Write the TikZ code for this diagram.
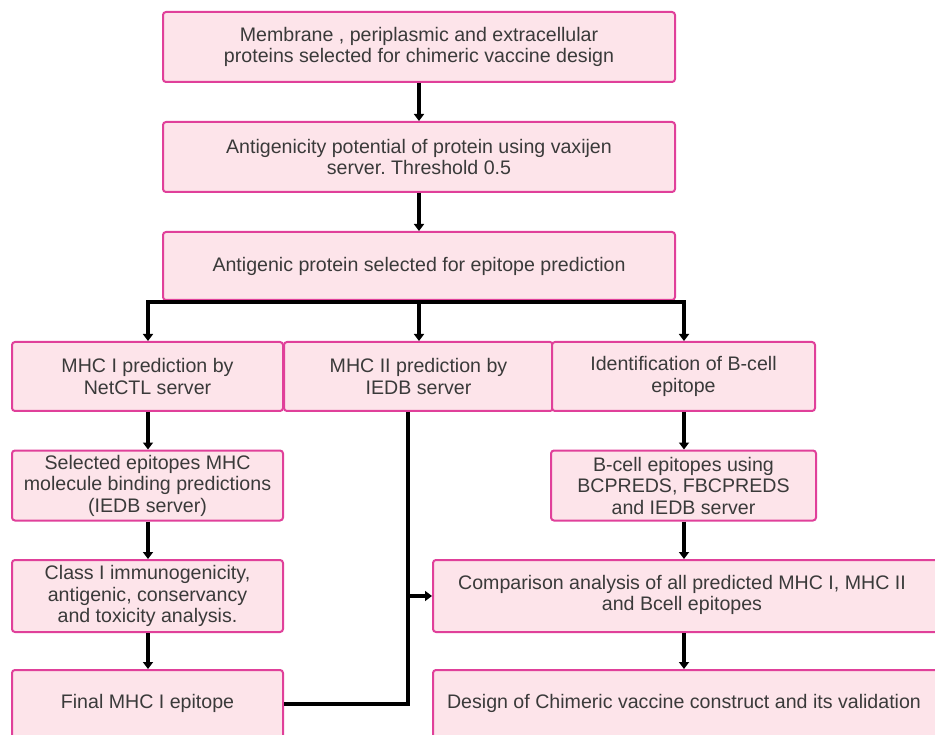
\documentclass[tikz,border=0pt]{standalone}
\usepackage{fontspec}
\setmainfont{Liberation Sans}
\usetikzlibrary{arrows.meta}
\definecolor{boxfill}{HTML}{FDE4EA}
\definecolor{boxline}{HTML}{E0409A}
\definecolor{txtcol}{HTML}{3A3A3A}
\frenchspacing
\tikzset{
  box/.style={draw=boxline, fill=boxfill, line width=2pt, rounded corners=3pt,
    inner sep=0pt, anchor=center, align=center, text=txtcol,
    font=\fontsize{19.6}{21.5}\selectfont},
  txt/.style={inner sep=0pt, align=center, text=txtcol,
    font=\fontsize{19.6}{21.5}\selectfont},
  link/.style={draw=black, line width=3.5pt},
  arr/.style={draw=black, line width=3.5pt, -{Triangle[width=10pt,length=7pt]}}
}
\begin{document}
\begin{tikzpicture}[x=1pt,y=-1pt]
\path[use as bounding box, clip] (0,0) rectangle (935,735);
\fill[white] (0,0) rectangle (935,735);
% top column
\node[box, minimum width=512, minimum height=70] (b1) at (419,47)
  {Membrane , periplasmic and extracellular\\proteins selected for chimeric vaccine design};
\node[box, minimum width=512, minimum height=70] (b2) at (419,157)
  {Antigenicity potential of protein using vaxijen\\server. Threshold 0.5};
\node[box, minimum width=512, minimum height=68] (b3) at (419,266)
  {Antigenic protein selected for epitope prediction};
% row of three
\node[box, minimum width=271, minimum height=69] (m1) at (147.5,376.5)
  {MHC I prediction by\\NetCTL server};
\node[box, minimum width=269, minimum height=69] (m2) at (418.5,376.5)
  {MHC II prediction by\\IEDB server};
\node[box, minimum width=263, minimum height=69] (bc) at (683.5,376.5)
  {Identification of B-cell\\epitope};
% left column
\node[box, minimum width=271, minimum height=70] (s1) at (147.5,485.5)
  {Selected epitopes MHC\\molecule binding predictions\\(IEDB server)};
\node[box, minimum width=271, minimum height=72] (s2) at (147.5,596)
  {Class I immunogenicity,\\antigenic, conservancy\\and toxicity analysis.};
\node[box, minimum width=271, minimum height=80] (s3) at (147.5,710) {};
\node[txt] (s3t) at (147.5,703) {Final MHC I epitope};
% right column
\node[box, minimum width=265, minimum height=70] (be) at (683.5,485.5)
  {B-cell epitopes using\\BCPREDS, FBCPREDS\\and IEDB server};
\node[box, minimum width=520, minimum height=72] (cmp) at (693,596) {};
\node[txt] (cmpt) at (682,595)
  {Comparison analysis of all predicted MHC I, MHC II\\and Bcell epitopes};
\node[box, minimum width=520, minimum height=80] (des) at (693,710) {};
\node[txt] (dest) at (684,703)
  {Design of Chimeric vaccine construct and its validation};
% arrows top
\draw[arr] (b1.south) -- (b2.north);
\draw[arr] (b2.south) -- (b3.north);
% branching
\coordinate (bl) at (148,302);
\coordinate (br) at (684,302);
\draw[link] (b3.south) -- (419,302);
\draw[link, line cap=rect] (bl) -- (br);
\draw[arr] (bl) -- (m1.north -| bl);
\draw[arr] (419,302) -- (m2.north -| b3.south);
\draw[arr] (br) -- (bc.north -| br);
% left column arrows
\draw[arr] (m1.south -| bl) -- (s1.north -| bl);
\draw[arr] (s1.south -| bl) -- (s2.north -| bl);
\draw[arr] (s2.south -| bl) -- (s3.north -| bl);
% right column arrows
\draw[arr] (bc.south -| br) -- (be.north -| br);
\draw[arr] (be.south -| br) -- (cmp.north -| br);
\draw[arr] (cmp.south -| br) -- (des.north -| br);
% MHC II line and Final MHC I join
\coordinate (v) at (408,704);
\coordinate (j) at (408,596);
\draw[link] (m2.south -| v) -- (v) -- (s3.east |- v);
\draw[arr] (j) -- (cmp.west |- j);
\end{tikzpicture}
\end{document}
